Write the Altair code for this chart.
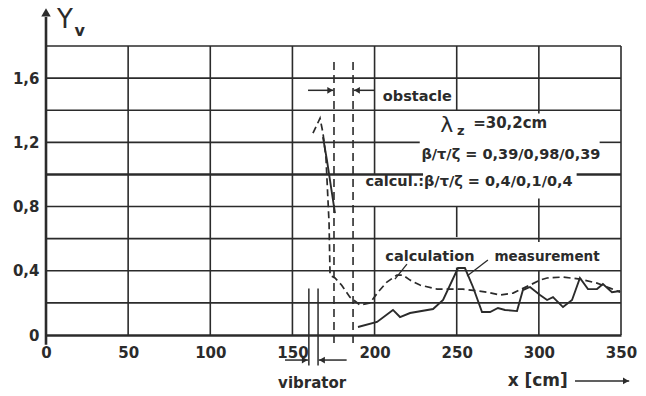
import altair as alt
import pandas as pd

INK = "#2b2b2b"
FONT = "DejaVu Sans"

# ---- data ----
x_ticks = [0, 50, 100, 150, 200, 250, 300, 350]
y_ticks = [0, 0.4, 0.8, 1.2, 1.6]

# calculation (dashed)
calc_x = [162.5, 166.8, 168.6, 170.4, 172.3, 172.9, 175.9, 180.0, 185.0, 191.1, 197.2, 202.1, 207.5, 213.6,
          217.3, 221.6, 227.6, 238.0, 253.8, 268.4, 276.3, 284.3, 294.6, 300.7, 305.0, 314.7, 325.0, 335.4,
          343.3, 349.5]
calc_y = [1.257, 1.35, 1.257, 1.107, 0.697, 0.373, 0.355, 0.31, 0.236, 0.187, 0.199, 0.267, 0.33, 0.373,
          0.373, 0.342, 0.311, 0.286, 0.286, 0.267, 0.249, 0.261, 0.311, 0.342, 0.355, 0.361, 0.348, 0.323,
          0.292, 0.267]

# measurement (solid), two pieces
meas1_x = [168.6, 171.0, 175.9]
meas1_y = [1.232, 1.089, 0.759]
meas2_x = [189.9, 201.5, 211.2, 215.5, 221.6, 235.6, 241.7, 250.8, 255.0, 259.9, 265.4, 270.3, 275.1, 279.4,
           286.7, 290.3, 294.6, 300.7, 305.0, 308.6, 314.7, 320.2, 325.0, 329.9, 335.4, 339.0, 344.5, 349.4]
meas2_y = [0.05, 0.081, 0.156, 0.112, 0.137, 0.162, 0.218, 0.417, 0.417, 0.299, 0.143, 0.143, 0.168, 0.156,
           0.149, 0.28, 0.299, 0.249, 0.218, 0.236, 0.174, 0.218, 0.355, 0.286, 0.286, 0.317, 0.267, 0.274]

# grid segments (value, from, to)
h_grid = [(0.2, 0, 350), (0.4, 0, 350), (0.6, 0, 350), (0.8, 0, 350), (1.2, 0, 227.5), (1.2, 337, 350),
          (1.4, 0, 350), (1.6, 0, 350), (1.8, 0, 350)]
h_thick = [(1.0, 0, 229.5), (1.0, 323, 350)]
v_grid = [(50, 0, 1.8), (100, 0, 1.8), (150, 0, 1.8), (200, 0, 0.8), (200, 1.0, 1.8), (250, 0, 0.42),
          (250, 0.61, 0.8), (250, 1.4, 1.8), (300, 0, 0.40), (300, 0.58, 0.85), (300, 1.38, 1.8), (350, 0, 1.8)]

obstacle_x = [175.3, 186.9]
obstacle_span = (-0.05, 1.72)
vibrator_x = [160.0, 165.6]
vibrator_span = (-0.19, 0.29)

# arrows: (from x, to x, y)
arrows = [(159.5, 175.0, 1.524), (200.0, 187.3, 1.524), (145.5, 159.5, -0.156), (183.0, 166.0, -0.156),
          (322.0, 355.0, -0.286)]

leaders = [(219.7, 0.442, 212.4, 0.348), (269.0, 0.467, 256.3, 0.367)]

labels = [
    ("obstacle", 205.0, 1.48, 14.5, "left", "bold"),
    ("λ", 244.0, 1.31, 22, "center", "normal"),
    ("z", 252.5, 1.27, 13, "center", "bold"),
    ("=30,2cm", 260.0, 1.318, 15, "left", "bold"),
    ("β/τ/ζ = 0,39/0,98/0,39", 283.0, 1.12, 14.5, "center", "bold"),
    ("calcul.:β/τ/ζ = 0,4/0,1/0,4", 257.5, 0.952, 14.5, "center", "bold"),
    ("calculation", 233.7, 0.485, 14.5, "center", "bold"),
    ("measurement", 305.0, 0.485, 13.5, "center", "bold"),
    ("vibrator", 162.0, -0.30, 15, "center", "bold"),
    ("x [cm]", 281.0, -0.286, 17, "left", "bold"),
    ("Υ", 11.6, 1.965, 26, "center", "normal"),
    ("v", 20.5, 1.895, 16, "center", "bold"),
]

xs = alt.Scale(domain=[0, 350], nice=False, zero=False)
ys = alt.Scale(domain=[0, 1.8], nice=False, zero=False)

# ---- frames ----
hdf = pd.DataFrame([{"y": v, "x": a, "x2": b} for v, a, b in h_grid])
htdf = pd.DataFrame([{"y": v, "x": a, "x2": b} for v, a, b in h_thick])
vdf = pd.DataFrame([{"x": v, "y": a, "y2": b} for v, a, b in v_grid])

grid = alt.Chart(hdf).mark_rule(color=INK, strokeWidth=1.6).encode(
    x=alt.X("x:Q", scale=xs, axis=alt.Axis(values=x_ticks, title=None, grid=False, ticks=False,
                                           domain=True, domainColor=INK, domainWidth=2.6,
                                           labelFont=FONT, labelFontWeight="bold", labelFontSize=15,
                                           labelColor=INK, labelPadding=10, labelFlush=False)),
    x2="x2:Q",
    y=alt.Y("y:Q", scale=ys, axis=alt.Axis(values=y_ticks, title=None, grid=False, ticks=False,
                                           domain=False, labelFont=FONT, labelFontWeight="bold",
                                           labelFontSize=15, labelColor=INK, labelPadding=7,
                                           labelFlush=False,
                                           labelExpr="datum.value == 0 ? '0' : replace(format(datum.value, '.1f'), '.', ',')")),
)
grid_thick = alt.Chart(htdf).mark_rule(color=INK, strokeWidth=2.6).encode(
    x=alt.X("x:Q", scale=xs), x2="x2:Q", y=alt.Y("y:Q", scale=ys))
vgrid = alt.Chart(vdf).mark_rule(color=INK, strokeWidth=1.6).encode(
    x=alt.X("x:Q", scale=xs), y=alt.Y("y:Q", scale=ys), y2="y2:Q")

yaxis_line = alt.Chart(pd.DataFrame({"x": [0.0], "y": [-0.06], "y2": [1.98]})).mark_rule(
    color=INK, strokeWidth=2.6).encode(x=alt.X("x:Q", scale=xs), y=alt.Y("y:Q", scale=ys), y2="y2:Q")
yaxis_head = alt.Chart(pd.DataFrame({"x": [0.0], "y": [2.01]})).mark_point(
    shape="triangle-up", filled=True, color=INK, size=90, opacity=1).encode(
    x=alt.X("x:Q", scale=xs), y=alt.Y("y:Q", scale=ys))

odf = pd.DataFrame({"x": obstacle_x, "y": [obstacle_span[0]] * 2, "y2": [obstacle_span[1]] * 2})
obst = alt.Chart(odf).mark_rule(color=INK, strokeWidth=1.6, strokeDash=[8, 5]).encode(
    x=alt.X("x:Q", scale=xs), y=alt.Y("y:Q", scale=ys), y2="y2:Q")
vbdf = pd.DataFrame({"x": vibrator_x, "y": [vibrator_span[0]] * 2, "y2": [vibrator_span[1]] * 2})
vib = alt.Chart(vbdf).mark_rule(color=INK, strokeWidth=1.5).encode(
    x=alt.X("x:Q", scale=xs), y=alt.Y("y:Q", scale=ys), y2="y2:Q")

adf = pd.DataFrame([{"x": a, "x2": b, "y": y} for a, b, y in arrows])
arrow_lines = alt.Chart(adf).mark_rule(color=INK, strokeWidth=1.5).encode(
    x=alt.X("x:Q", scale=xs), x2="x2:Q", y=alt.Y("y:Q", scale=ys))
heads = pd.DataFrame([{"x": b - (2.0 if b > a else -2.0), "y": y,
                       "shape": "triangle-right" if b > a else "triangle-left"} for a, b, y in arrows])
arrow_heads = alt.Chart(heads).mark_point(filled=True, color=INK, size=45, opacity=1).encode(
    x=alt.X("x:Q", scale=xs), y=alt.Y("y:Q", scale=ys),
    shape=alt.Shape("shape:N", scale=None, legend=None))

ldf = pd.DataFrame([{"x": a, "y": b, "x2": c, "y2": d} for a, b, c, d in leaders])
leader = alt.Chart(ldf).mark_rule(color=INK, strokeWidth=1.3).encode(
    x=alt.X("x:Q", scale=xs), y=alt.Y("y:Q", scale=ys), x2="x2:Q", y2="y2:Q")

cdf = pd.DataFrame({"x": calc_x, "y": calc_y, "o": range(len(calc_x))})
calc = alt.Chart(cdf).mark_line(color=INK, strokeWidth=1.7, strokeDash=[7, 4]).encode(
    x=alt.X("x:Q", scale=xs), y=alt.Y("y:Q", scale=ys), order="o:Q")

mdf = pd.concat([
    pd.DataFrame({"x": meas1_x, "y": meas1_y, "seg": "a", "o": range(len(meas1_x))}),
    pd.DataFrame({"x": meas2_x, "y": meas2_y, "seg": "b", "o": range(len(meas2_x))}),
])
meas = alt.Chart(mdf).mark_line(color=INK, strokeWidth=1.9).encode(
    x=alt.X("x:Q", scale=xs), y=alt.Y("y:Q", scale=ys), detail="seg:N", order="o:Q")

text_layers = []
for t, x, y, s, al, w in labels:
    text_layers.append(
        alt.Chart(pd.DataFrame({"x": [x], "y": [y], "t": [t]})).mark_text(
            font=FONT, fontSize=s, fontWeight=w, align=al, baseline="middle", color=INK).encode(
            x=alt.X("x:Q", scale=xs), y=alt.Y("y:Q", scale=ys), text="t:N"))

chart = alt.layer(grid, grid_thick, vgrid, yaxis_line, yaxis_head, obst, vib, arrow_lines, arrow_heads,
                  leader, calc, meas, *text_layers).properties(
    width=575, height=289,
    padding={"left": 46, "top": 46, "right": 25, "bottom": 61},
    autosize=alt.AutoSizeParams(type="none"),
    background="white",
).configure_view(stroke=None)

chart.save("out.html", embed_options={"renderer": "svg", "actions": False})
